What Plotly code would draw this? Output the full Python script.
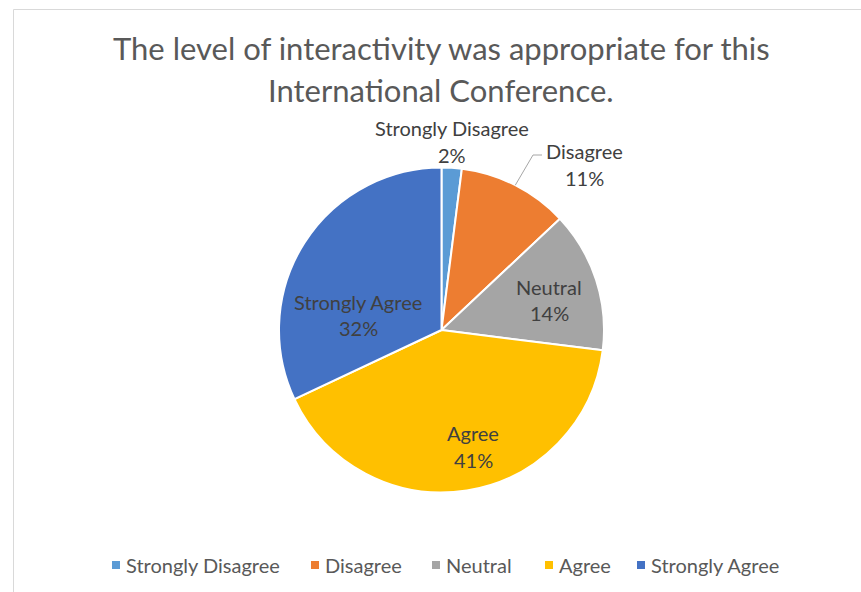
import math
import plotly.graph_objects as go

# Survey responses
categories = ["Strongly Disagree", "Disagree", "Neutral", "Agree", "Strongly Agree"]
percent = [2, 11, 14, 41, 32]
colors = ["#5B9BD5", "#ED7D31", "#A5A5A5", "#FFC000", "#4472C4"]
title_lines = ["The level of interactivity was appropriate for this",
               "International Conference."]

W, H = 861, 592
FONT = "Lato, Open Sans, sans-serif"

# pie geometry in pixels
CX, CY, R = 441.5, 330.0, 162.5


def px(x, y):
    return x / W, 1 - y / H


fig = go.Figure(go.Pie(
    labels=categories,
    values=percent,
    marker=dict(colors=colors, line=dict(color="white", width=2)),
    sort=False,
    direction="clockwise",
    rotation=0,
    textinfo="none",
    hoverinfo="label+percent",
    showlegend=False,
    domain=dict(x=[(CX - R) / W, (CX + R) / W],
                y=[1 - (CY + R) / H, 1 - (CY - R) / H]),
))

annotations = []
shapes = []

# title
for line, y in zip(title_lines, [48, 90]):
    x0, y0 = px(441, y)
    annotations.append(dict(x=x0, y=y0, xref="paper", yref="paper",
                            text=line, showarrow=False,
                            font=dict(family=FONT, size=31, color="#595959"),
                            xanchor="center", yanchor="middle"))

# data label centres (name line, percent line)
label_pos = {
    "Strongly Disagree": (452, 128, 155),
    "Disagree": (584, 151, 178),
    "Neutral": (549, 287, 313),
    "Agree": (473, 433, 460),
    "Strongly Agree": (358, 302, 328),
}
for cat, val in zip(categories, percent):
    lx, ly1, ly2 = label_pos[cat]
    for txt, ly in [(cat, ly1), (f"{val}%", ly2)]:
        ax, ay = px(lx, ly)
        annotations.append(dict(x=ax, y=ay, xref="paper", yref="paper",
                                text=txt, showarrow=False,
                                font=dict(family=FONT, size=20, color="#404040"),
                                xanchor="center", yanchor="middle"))

# leader line for the Disagree label, starting at the slice's mid-angle
total = sum(percent)
start = sum(percent[:1])
mid = (start + percent[1] / 2) / total * 2 * math.pi
ex, ey = CX + R * math.sin(mid), CY - R * math.cos(mid)
p0 = px(ex, ey)
p1 = px(533, 155)
p2 = px(542, 155)
shapes.append(dict(type="path", xref="paper", yref="paper",
                   path=f"M {p0[0]},{p0[1]} L {p1[0]},{p1[1]} L {p2[0]},{p2[1]}",
                   line=dict(color="#A6A6A6", width=1)))

# legend
legend_x = [116, 315, 436, 549, 641]
LEG_Y = 565
for cat, col, lx in zip(categories, colors, legend_x):
    a0 = px(lx - 4, LEG_Y - 4)
    a1 = px(lx + 4, LEG_Y + 4)
    shapes.append(dict(type="rect", xref="paper", yref="paper",
                       x0=a0[0], x1=a1[0], y0=a1[1], y1=a0[1],
                       fillcolor=col, line=dict(width=0)))
    tx, ty = px(lx + 8, LEG_Y)
    annotations.append(dict(x=tx, y=ty, xref="paper", yref="paper",
                            text=cat, showarrow=False,
                            font=dict(family=FONT, size=20, color="#595959"),
                            xanchor="left", yanchor="middle"))

# chart area border
b0 = px(13.5, 9.5)
b1 = px(W + 10, H + 10)
shapes.append(dict(type="rect", xref="paper", yref="paper",
                   x0=b0[0], x1=b1[0], y0=b1[1], y1=b0[1],
                   line=dict(color="#D9D9D9", width=1), fillcolor="rgba(0,0,0,0)",
                   layer="below"))

fig.update_layout(
    width=W, height=H,
    margin=dict(l=0, r=0, t=0, b=0),
    paper_bgcolor="white",
    plot_bgcolor="white",
    annotations=annotations,
    shapes=shapes,
)

fig.write_html("out.html")
